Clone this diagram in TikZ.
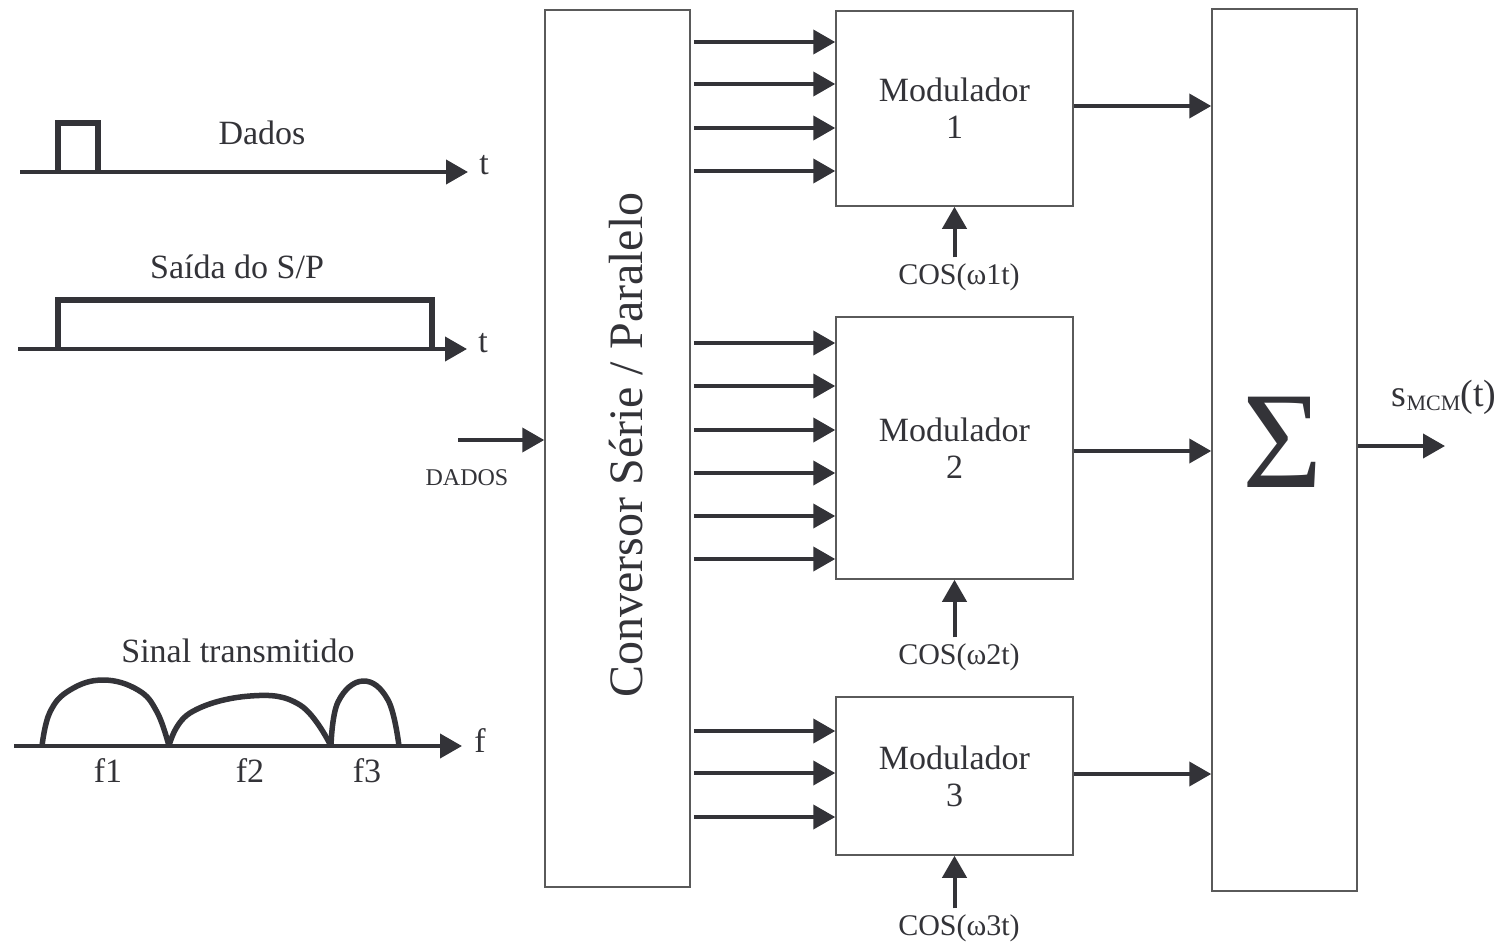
\documentclass[tikz,border=0pt]{standalone}
\usepackage{fontspec}
\setmainfont{Liberation Serif}
\usetikzlibrary{arrows.meta}
\definecolor{ink}{HTML}{333338}
\definecolor{edge}{HTML}{5A5A5A}
\begin{document}
\begin{tikzpicture}[x=1pt,y=-1pt,
  box/.style={draw=edge, line width=1.5pt, inner sep=0pt},
  arr/.style={draw=ink, line width=4pt, -{Triangle[length=22pt,width=24pt]}},
  sig/.style={draw=ink, line width=5.5pt, line join=miter},
  lbl/.style={text=ink, font=\fontsize{34}{37}\selectfont, inner sep=0pt},
  coslbl/.style={text=ink, font=\fontsize{30}{36}\selectfont, inner sep=0pt, outer ysep=6pt}]
\useasboundingbox (0,0) rectangle (1504,946);
% blocks
\node[box, minimum width=145pt, minimum height=877pt] (conv) at (617.5,448.5) {};
\node[box, minimum width=237pt, minimum height=195pt] (m1) at (954.5,108.5) {};
\node[box, minimum width=237pt, minimum height=262pt] (m2) at (954.5,448) {};
\node[box, minimum width=237pt, minimum height=158pt] (m3) at (954.5,776) {};
\node[box, minimum width=145pt, minimum height=882pt] (sum) at (1284.5,450) {};
% block texts
\node[lbl, rotate=90, font=\fontsize{48}{56}\selectfont] (convtxt) at (626,445) {Conversor Série / Paralelo};
\node[lbl, align=center] (m1txt) at (m1) {Modulador\\1};
\node[lbl, align=center] (m2txt) at (m2) {Modulador\\2};
\node[lbl, align=center] (m3txt) at (m3) {Modulador\\3};
\node[lbl, font=\fontsize{138}{140}\selectfont] (sigma) at (1283,442) {Σ};
% parallel outputs
\foreach \y in {42,84,128,171}
  \draw[arr] (conv.east |- 0,\y) ++(3,0) -- (m1.west |- 0,\y);
\foreach \y in {343,386,430,473,516,559}
  \draw[arr] (conv.east |- 0,\y) ++(3,0) -- (m2.west |- 0,\y);
\foreach \y in {731,773,817}
  \draw[arr] (conv.east |- 0,\y) ++(3,0) -- (m3.west |- 0,\y);
% modulator outputs
\draw[arr] (m1.east |- 0,106) -- (sum.west |- 0,106);
\draw[arr] (m2.east |- 0,451) -- (sum.west |- 0,451);
\draw[arr] (m3.east |- 0,774) -- (sum.west |- 0,774);
% carriers
\node[coslbl] (c1) at (959,277) {COS(ω1t)};
\node[coslbl] (c2) at (959,657) {COS(ω2t)};
\node[coslbl] (c3) at (959,928) {COS(ω3t)};
\draw[arr] (m1.south |- c1.north) -- (m1.south);
\draw[arr] (m2.south |- c2.north) -- (m2.south);
\draw[arr] (m3.south |- c3.north) -- (m3.south);
% output
\coordinate (out) at (1445,446);
\draw[arr] (sum.east |- out) -- (out);
\node[lbl, anchor=base, font=\fontsize{38}{40}\selectfont] (smcm) at (1444,406) {s\raisebox{-4pt}{\fontsize{22}{24}\selectfont MCM}(t)};
% input
\coordinate (din) at (458,440);
\draw[arr] (din) -- (conv.west |- din);
\node[lbl, font=\fontsize{24}{28}\selectfont] (dadosin) at (467,478) {DADOS};
% left: Dados
\draw[arr] (20,172) -- (468,172);
\draw[sig] (58,172) -- (58,123) -- (98,123) -- (98,172);
\node[lbl] (dl) at (262,133) {Dados};
\node[lbl] (t1) at (484,165) {t};
% left: Saida do S/P
\draw[arr] (18,349) -- (467,349);
\draw[sig] (58,349) -- (58,300) -- (432,300) -- (432,349);
\node[lbl] (sl) at (237,267) {Saída do S/P};
\node[lbl] (t2) at (483,343) {t};
% left: Sinal transmitido
\draw[arr] (14,746) -- (462,746);
\draw[sig, line cap=butt] plot[smooth, tension=0.7] coordinates {(42,746) (50,712) (70,690) (103,680) (138,690) (157,712) (169,746)};
\draw[sig] plot[smooth, tension=0.7] coordinates {(169,746) (190,713) (250,696) (300,705) (331,746)};
\draw[sig] plot[smooth, tension=0.7] coordinates {(331,746) (338,702) (363,681) (388,700) (399,746)};
\node[lbl] (stl) at (238,651) {Sinal transmitido};
\node[lbl] (fl) at (480,741) {f};
\node[lbl] (f1) at (108,771) {f1};
\node[lbl] (f2) at (250,771) {f2};
\node[lbl] (f3) at (367,771) {f3};
\end{tikzpicture}
\end{document}
